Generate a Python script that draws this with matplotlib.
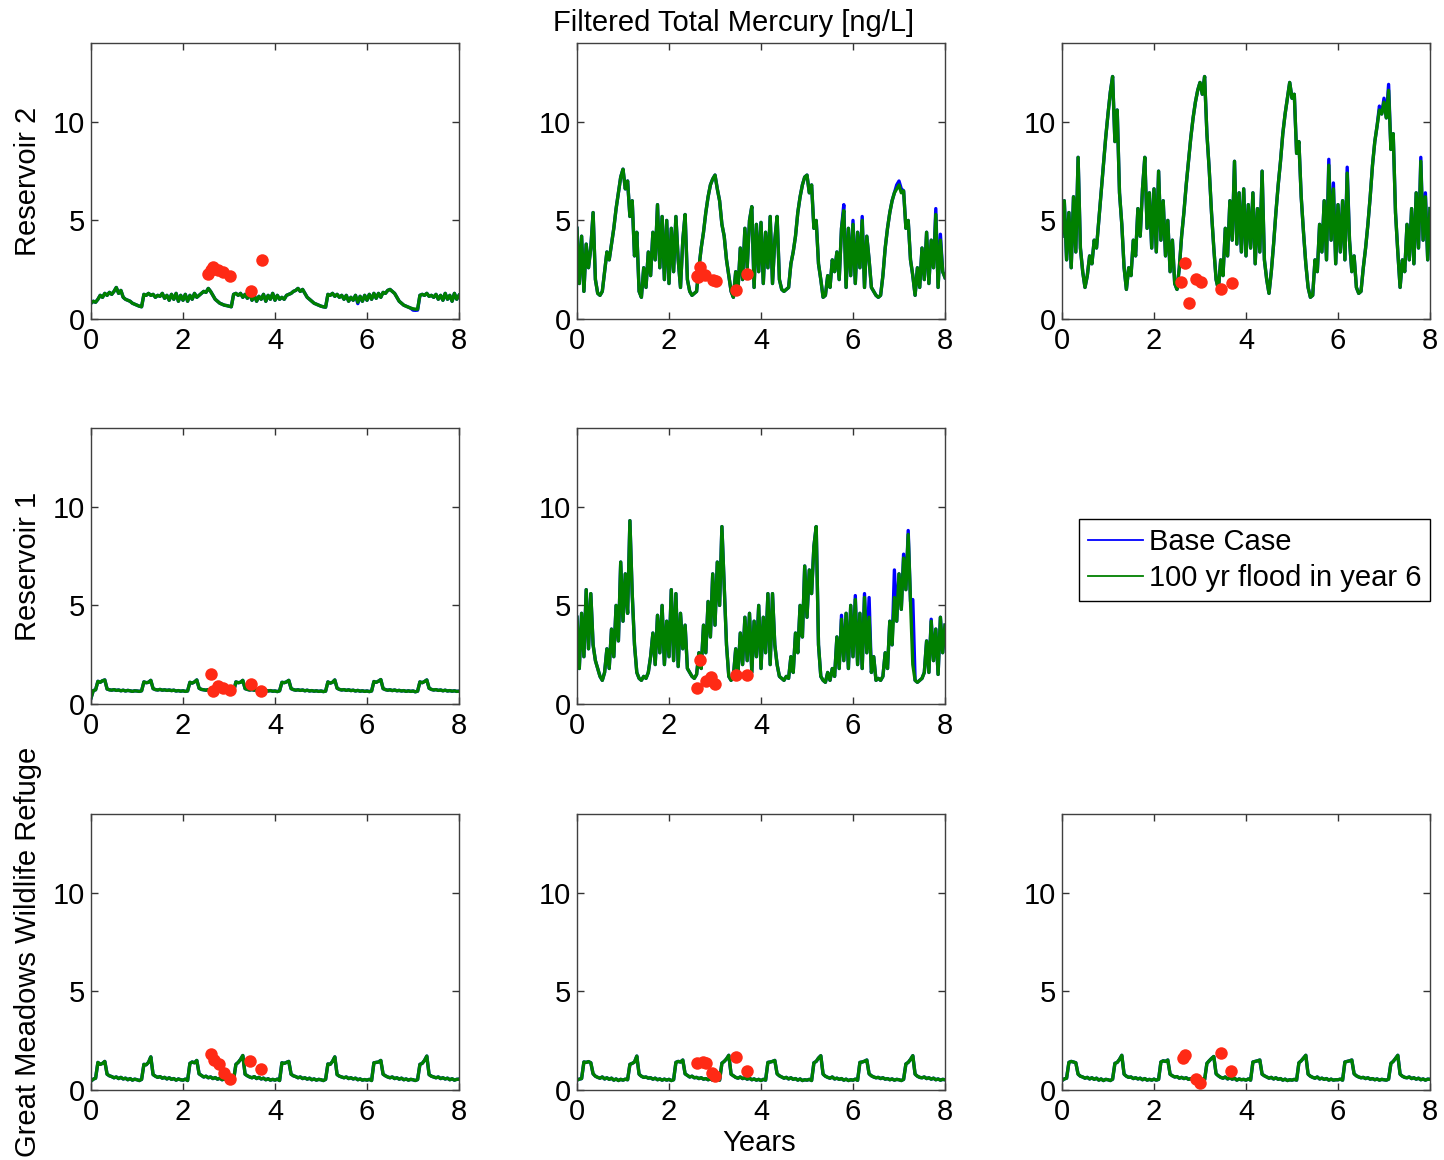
import matplotlib.pyplot as plt
import numpy as np
from matplotlib.lines import Line2D

plt.rcParams['font.family'] = ['Liberation Sans', 'DejaVu Sans']

# time grid, 0.05 yr steps over the 8 simulated years
years = np.linspace(0, 8, 161)

# Reservoir 2 -- first column
r2_a = [0.80, 0.90, 0.85, 1.00, 1.20, 1.10, 1.30, 1.20, 1.35, 1.25, 1.40, 1.60, 1.30, 1.45, 1.10, 1.00, 0.95, 0.90, 0.80, 0.75,
        0.70, 0.65, 0.62, 1.25, 1.20, 1.30, 1.20, 1.25, 1.10, 1.20, 1.15, 1.30, 1.05, 1.20, 0.95, 1.25, 1.00, 1.30, 0.90, 1.20,
        0.95, 1.25, 0.90, 1.20, 1.00, 1.30, 1.10, 1.20, 1.30, 1.40, 1.35, 1.55, 1.40, 1.20, 1.00, 0.90, 0.80, 0.75, 0.70, 0.68,
        0.65, 0.62, 1.25, 1.30, 1.20, 1.30, 1.10, 1.25, 1.05, 1.30, 0.95, 1.20, 0.90, 1.15, 1.00, 1.25, 0.90, 1.20, 1.00, 1.30,
        0.95, 1.20, 1.00, 1.10, 1.00, 1.20, 1.25, 1.30, 1.40, 1.45, 1.55, 1.40, 1.50, 1.30, 1.10, 1.00, 0.90, 0.80, 0.75, 0.70,
        0.65, 0.62, 0.60, 1.25, 1.20, 1.30, 1.15, 1.25, 1.10, 1.20, 1.00, 1.20, 0.90, 1.10, 0.95, 1.20, 0.85, 1.15, 0.90, 1.20,
        0.95, 1.25, 1.00, 1.30, 1.05, 1.30, 1.10, 1.35, 1.30, 1.45, 1.50, 1.40, 1.30, 1.10, 0.90, 0.80, 0.70, 0.65, 0.60, 0.55,
        0.52, 0.50, 0.50, 1.20, 1.25, 1.20, 1.30, 1.15, 1.20, 1.10, 1.25, 1.00, 1.20, 0.95, 1.30, 1.00, 1.20, 0.90, 1.30, 1.00,
        1.20]

# Reservoir 2 -- second column
r2_b = [4.6, 1.8, 4.2, 1.4, 3.8, 2.6, 3.6, 5.4, 2.0, 1.3, 1.2, 1.4, 2.4, 3.4, 3.0, 3.8, 4.6, 5.6, 6.4, 7.2,
        7.6, 6.6, 7.0, 5.2, 6.0, 3.2, 4.4, 1.4, 1.1, 2.6, 1.6, 3.4, 2.2, 4.4, 3.0, 5.8, 2.6, 5.2, 2.0, 5.0,
        1.8, 4.6, 2.4, 5.2, 3.0, 1.6, 4.0, 5.3, 2.0, 1.4, 1.2, 1.3, 1.4, 2.6, 3.6, 4.4, 5.4, 6.2, 6.8, 7.1,
        7.3, 6.6, 6.0, 4.8, 4.2, 3.0, 2.2, 1.4, 1.1, 2.4, 1.5, 3.6, 2.0, 4.6, 2.6, 5.0, 5.7, 1.6, 4.8, 2.4,
        4.9, 1.8, 4.4, 2.6, 5.2, 1.8, 4.0, 5.2, 2.0, 1.5, 1.4, 1.5, 1.6, 2.8, 3.4, 4.2, 5.4, 6.2, 6.8, 7.2,
        7.3, 6.4, 6.8, 4.6, 5.0, 2.8, 2.0, 1.1, 1.2, 2.2, 1.6, 3.0, 2.4, 3.4, 2.0, 4.6, 5.5, 1.6, 4.6, 2.2,
        4.8, 1.8, 4.4, 2.6, 5.0, 1.6, 4.2, 3.0, 1.6, 1.4, 1.2, 1.1, 1.2, 2.2, 3.6, 4.6, 5.4, 6.0, 6.4, 6.6,
        6.8, 6.4, 6.5, 4.6, 5.0, 3.0, 2.2, 1.2, 2.6, 1.6, 3.6, 2.0, 4.4, 1.8, 4.0, 2.6, 5.3, 1.6, 4.0, 2.4,
        2.1]

# Reservoir 2 -- third column
r2_c = [4.2, 6.0, 3.0, 5.4, 2.6, 6.2, 3.4, 8.2, 3.6, 2.4, 1.6, 2.2, 3.2, 2.8, 4.0, 3.6, 5.0, 6.4, 7.8, 9.2,
        10.4, 11.5, 12.3, 9.0, 10.6, 6.4, 4.8, 2.6, 1.5, 2.6, 2.2, 4.0, 3.2, 5.6, 4.2, 6.6, 8.2, 4.6, 6.4, 3.6,
        6.6, 3.4, 7.5, 4.0, 6.0, 3.2, 5.0, 2.4, 4.0, 1.8, 1.5, 2.6, 4.2, 5.4, 6.8, 8.0, 9.2, 10.2, 11.0, 11.6,
        12.0, 11.4, 12.3, 9.4, 7.6, 5.4, 3.6, 2.0, 1.5, 3.0, 2.2, 4.6, 3.2, 6.0, 4.0, 8.0, 3.8, 6.4, 3.4, 6.6,
        3.2, 5.8, 3.6, 6.4, 2.8, 5.6, 3.4, 7.5, 3.0, 2.0, 1.3, 2.4, 3.8, 5.4, 6.8, 8.0, 9.4, 10.4, 11.2, 12.0,
        11.2, 11.4, 8.4, 9.0, 6.2, 4.4, 2.8, 1.6, 1.1, 1.2, 3.0, 2.4, 4.8, 3.4, 6.0, 3.0, 7.8, 4.0, 6.6, 2.8,
        5.8, 3.4, 6.0, 3.0, 7.4, 4.0, 2.4, 3.2, 1.6, 1.3, 1.4, 2.6, 3.6, 4.8, 6.2, 7.8, 9.0, 9.8, 10.6, 10.4,
        11.0, 10.2, 11.6, 8.6, 9.4, 5.4, 3.4, 1.6, 3.0, 2.4, 4.8, 3.0, 5.6, 2.8, 6.4, 3.6, 8.0, 4.0, 6.2, 3.0,
        5.6]

# Reservoir 1 -- first column
r1_a = [0.30, 0.68, 0.72, 1.15, 1.10, 1.18, 1.22, 0.76, 0.72, 0.70, 0.73, 0.69, 0.71, 0.67, 0.70, 0.66, 0.69, 0.67, 0.64, 0.67,
        0.66, 0.64, 0.67, 1.12, 1.08, 1.10, 1.20, 0.78, 0.73, 0.71, 0.74, 0.70, 0.72, 0.69, 0.71, 0.68, 0.70, 0.66, 0.68, 0.65,
        0.67, 0.64, 0.66, 1.10, 1.06, 1.12, 1.22, 0.80, 0.74, 0.72, 0.70, 0.73, 0.69, 0.71, 0.67, 0.70, 0.66, 0.68, 0.65, 0.67,
        0.64, 0.66, 0.63, 1.12, 1.08, 1.10, 1.20, 0.78, 0.74, 0.71, 0.73, 0.70, 0.72, 0.68, 0.70, 0.67, 0.69, 0.66, 0.68, 0.65,
        0.66, 0.63, 0.67, 1.10, 1.08, 1.12, 1.20, 0.78, 0.73, 0.70, 0.72, 0.69, 0.71, 0.67, 0.70, 0.66, 0.68, 0.65, 0.67, 0.64,
        0.66, 0.63, 0.65, 1.12, 1.06, 1.10, 1.22, 0.80, 0.74, 0.71, 0.73, 0.69, 0.72, 0.68, 0.70, 0.66, 0.69, 0.65, 0.67, 0.64,
        0.66, 0.63, 0.66, 1.14, 1.10, 1.16, 1.24, 0.78, 0.73, 0.70, 0.72, 0.68, 0.71, 0.67, 0.69, 0.66, 0.68, 0.64, 0.67, 0.64,
        0.66, 0.62, 0.65, 1.12, 1.08, 1.14, 1.22, 0.80, 0.74, 0.71, 0.73, 0.69, 0.71, 0.67, 0.70, 0.66, 0.68, 0.65, 0.67, 0.64,
        0.65]

# Reservoir 1 -- second column
r1_b = [4.4, 1.8, 4.6, 2.4, 5.8, 2.8, 5.6, 3.0, 2.2, 1.8, 1.4, 1.2, 1.6, 2.8, 1.8, 3.8, 2.4, 5.0, 3.2, 7.2,
        4.2, 6.6, 4.6, 9.3, 5.6, 3.0, 1.6, 1.3, 1.2, 1.4, 1.3, 1.6, 2.4, 3.6, 2.0, 4.5, 2.6, 5.0, 2.0, 4.2,
        2.4, 5.8, 2.2, 5.6, 1.9, 4.6, 2.8, 4.0, 1.8, 1.6, 1.4, 1.3, 1.5, 2.6, 1.8, 4.0, 2.6, 5.2, 3.4, 6.6,
        4.0, 7.2, 5.0, 9.0, 6.0, 3.0, 1.4, 1.2, 1.4, 2.8, 1.6, 3.6, 2.0, 4.4, 2.2, 4.6, 1.6, 4.2, 2.4, 5.0,
        1.8, 4.4, 2.6, 5.6, 2.0, 5.6, 3.0, 2.0, 1.4, 1.3, 1.2, 1.4, 1.3, 2.4, 1.6, 3.6, 2.6, 5.0, 3.4, 7.0,
        4.4, 6.8, 5.6, 8.0, 9.0, 3.0, 1.4, 1.2, 1.1, 1.6, 1.2, 1.8, 1.4, 3.4, 1.8, 4.3, 2.2, 4.6, 1.8, 5.0,
        2.4, 5.3, 2.0, 4.6, 1.8, 5.4, 2.6, 4.4, 1.6, 2.4, 1.2, 1.3, 1.2, 1.4, 2.6, 1.8, 4.2, 3.0, 5.4, 4.2,
        6.6, 4.8, 7.4, 5.8, 8.6, 5.2, 2.0, 1.2, 1.1, 1.2, 1.3, 1.6, 3.2, 1.6, 4.2, 2.2, 3.8, 1.5, 4.4, 2.6,
        4.0]

# Great Meadows Wildlife Refuge -- three columns
gm_a = [0.45, 0.55, 0.60, 1.40, 1.30, 1.35, 1.45, 0.80, 0.72, 0.68, 0.62, 0.66, 0.58, 0.64, 0.56, 0.60, 0.52, 0.58, 0.50, 0.55,
        0.52, 0.48, 0.54, 1.30, 1.28, 1.40, 1.68, 0.78, 0.70, 0.64, 0.68, 0.60, 0.64, 0.56, 0.62, 0.54, 0.58, 0.50, 0.56, 0.52,
        0.50, 0.55, 0.48, 1.35, 1.42, 1.38, 1.50, 0.82, 0.74, 0.66, 0.70, 0.62, 0.66, 0.58, 0.63, 0.55, 0.60, 0.52, 0.56, 0.50,
        0.54, 0.48, 0.52, 1.30, 1.40, 1.55, 1.75, 0.80, 0.72, 0.66, 0.62, 0.68, 0.58, 0.64, 0.56, 0.60, 0.52, 0.57, 0.50, 0.54,
        0.50, 0.55, 0.48, 1.38, 1.35, 1.40, 1.45, 0.80, 0.72, 0.68, 0.62, 0.66, 0.58, 0.62, 0.55, 0.60, 0.52, 0.56, 0.50, 0.54,
        0.52, 0.48, 0.54, 1.32, 1.30, 1.45, 1.68, 0.78, 0.70, 0.66, 0.62, 0.66, 0.58, 0.62, 0.56, 0.60, 0.52, 0.56, 0.50, 0.53,
        0.50, 0.54, 0.48, 1.38, 1.40, 1.42, 1.50, 0.80, 0.72, 0.66, 0.62, 0.66, 0.58, 0.62, 0.55, 0.60, 0.52, 0.56, 0.50, 0.54,
        0.52, 0.48, 0.53, 1.30, 1.35, 1.50, 1.72, 0.78, 0.70, 0.66, 0.62, 0.66, 0.58, 0.62, 0.56, 0.60, 0.52, 0.57, 0.50, 0.54,
        0.55]

gm_b = [0.50, 0.55, 0.58, 1.42, 1.40, 1.44, 1.38, 0.82, 0.70, 0.64, 0.60, 0.66, 0.56, 0.62, 0.54, 0.60, 0.50, 0.56, 0.48, 0.54,
        0.50, 0.55, 0.52, 1.30, 1.35, 1.42, 1.72, 0.80, 0.70, 0.64, 0.66, 0.60, 0.62, 0.55, 0.60, 0.52, 0.56, 0.50, 0.55, 0.50,
        0.54, 0.48, 0.52, 1.40, 1.45, 1.42, 1.52, 0.82, 0.74, 0.66, 0.70, 0.62, 0.64, 0.58, 0.62, 0.55, 0.58, 0.52, 0.56, 0.50,
        0.52, 0.56, 0.50, 1.36, 1.45, 1.58, 1.76, 0.80, 0.72, 0.64, 0.60, 0.66, 0.58, 0.62, 0.55, 0.60, 0.52, 0.56, 0.50, 0.54,
        0.48, 0.54, 0.50, 1.40, 1.42, 1.45, 1.50, 0.82, 0.72, 0.66, 0.60, 0.64, 0.56, 0.62, 0.54, 0.58, 0.50, 0.56, 0.48, 0.52,
        0.50, 0.54, 0.48, 1.38, 1.45, 1.62, 1.74, 0.80, 0.70, 0.64, 0.60, 0.66, 0.56, 0.60, 0.54, 0.58, 0.50, 0.55, 0.48, 0.52,
        0.50, 0.55, 0.49, 1.40, 1.42, 1.46, 1.52, 0.82, 0.72, 0.66, 0.62, 0.64, 0.58, 0.62, 0.55, 0.58, 0.52, 0.56, 0.50, 0.54,
        0.52, 0.48, 0.54, 1.32, 1.40, 1.55, 1.74, 0.80, 0.70, 0.64, 0.62, 0.66, 0.58, 0.62, 0.55, 0.60, 0.52, 0.56, 0.50, 0.54,
        0.52]

gm_c = [0.48, 0.56, 0.60, 1.40, 1.45, 1.42, 1.38, 0.80, 0.70, 0.66, 0.60, 0.64, 0.56, 0.62, 0.54, 0.60, 0.50, 0.56, 0.48, 0.54,
        0.52, 0.48, 0.55, 1.35, 1.40, 1.55, 1.76, 0.80, 0.70, 0.64, 0.66, 0.58, 0.62, 0.56, 0.60, 0.52, 0.58, 0.50, 0.54, 0.50,
        0.55, 0.50, 0.54, 1.42, 1.48, 1.45, 1.52, 0.80, 0.72, 0.66, 0.68, 0.60, 0.64, 0.58, 0.62, 0.54, 0.58, 0.50, 0.56, 0.52,
        0.50, 0.55, 0.52, 1.35, 1.48, 1.60, 1.70, 0.82, 0.72, 0.64, 0.60, 0.66, 0.56, 0.62, 0.55, 0.60, 0.50, 0.56, 0.52, 0.54,
        0.50, 0.56, 0.50, 1.42, 1.45, 1.48, 1.52, 0.80, 0.72, 0.66, 0.60, 0.64, 0.56, 0.62, 0.54, 0.58, 0.50, 0.55, 0.48, 0.52,
        0.50, 0.54, 0.50, 1.38, 1.48, 1.62, 1.76, 0.80, 0.70, 0.64, 0.60, 0.66, 0.56, 0.60, 0.54, 0.58, 0.50, 0.55, 0.50, 0.52,
        0.52, 0.55, 0.50, 1.42, 1.45, 1.48, 1.52, 0.82, 0.72, 0.66, 0.62, 0.64, 0.58, 0.62, 0.55, 0.58, 0.52, 0.56, 0.50, 0.54,
        0.52, 0.50, 0.55, 1.35, 1.45, 1.60, 1.76, 0.80, 0.70, 0.64, 0.62, 0.66, 0.58, 0.62, 0.55, 0.60, 0.52, 0.56, 0.50, 0.55,
        0.54]

# Base case only differs from the flood run at a few points after year 5.7
base_t_r2_a = [5.80, 7.00, 7.05, 7.10]
base_v_r2_a = [0.78, 0.45, 0.44, 0.45]
base_t_r2_b = [5.80, 6.00, 6.20, 6.95, 7.00, 7.05, 7.80, 7.90]
base_v_r2_b = [5.8, 5.0, 5.2, 6.8, 7.0, 6.6, 5.6, 4.3]
base_t_r2_c = [5.80, 5.90, 6.20, 6.90, 7.00, 7.10, 7.80, 7.90]
base_v_r2_c = [8.1, 6.9, 7.7, 10.8, 11.2, 11.9, 8.2, 6.4]
base_t_r1_b = [5.75, 6.05, 6.25, 6.35, 6.90, 7.10, 7.20, 7.30, 7.70]
base_v_r1_b = [4.5, 5.5, 5.6, 5.4, 6.8, 7.6, 8.8, 5.3, 4.3]

# field samples (red dots)
obs_t_r2_a = [2.55, 2.60, 2.65, 2.75, 2.88, 3.02, 3.47, 3.71]
obs_v_r2_a = [2.30, 2.50, 2.65, 2.47, 2.37, 2.20, 1.41, 2.98]
obs_t_r2_b = [2.60, 2.63, 2.67, 2.78, 2.95, 3.03, 3.46, 3.69]
obs_v_r2_b = [2.17, 2.14, 2.64, 2.22, 1.97, 1.92, 1.46, 2.30]
obs_t_r2_c = [2.59, 2.67, 2.77, 2.92, 3.03, 3.46, 3.70]
obs_v_r2_c = [1.88, 2.84, 0.83, 2.05, 1.88, 1.50, 1.84]
obs_t_r1_a = [2.60, 2.65, 2.76, 2.87, 3.02, 3.48, 3.70]
obs_v_r1_a = [1.50, 0.67, 0.92, 0.79, 0.72, 1.00, 0.67]
obs_t_r1_b = [2.60, 2.67, 2.81, 2.92, 3.01, 3.46, 3.69]
obs_v_r1_b = [0.79, 2.21, 1.17, 1.37, 1.00, 1.47, 1.45]
obs_t_gm_a = [2.60, 2.67, 2.78, 2.90, 3.02, 3.46, 3.70]
obs_v_gm_a = [1.82, 1.52, 1.31, 0.84, 0.54, 1.46, 1.04]
obs_t_gm_b = [2.61, 2.74, 2.81, 2.94, 3.01, 3.45, 3.69]
obs_v_gm_b = [1.38, 1.40, 1.35, 0.84, 0.71, 1.68, 0.98]
obs_t_gm_c = [2.63, 2.67, 2.92, 3.01, 3.46, 3.68]
obs_v_gm_c = [1.60, 1.77, 0.54, 0.37, 1.88, 0.98]

row_names = ['Reservoir 2', 'Reservoir 1', 'Great Meadows Wildlife Refuge']

BLUE = '#0000ff'
GREEN = '#008000'
RED = '#ff2a15'
FS = 21

W, H = 1444, 1160
col_left = [91, 577, 1062]
col_width = 368
row_top = [43, 428, 814]
row_height = 276

fig = plt.figure(figsize=(W / 100, H / 100), dpi=100)


def make_base(flood, bt, bv):
    base = np.array(flood, dtype=float)
    for t, v in zip(bt, bv):
        base[int(round(t / 0.05))] = v
    return base


def draw_panel(row, col, flood, base, obs_t, obs_v):
    left = col_left[col] / W
    bottom = 1 - (row_top[row] + row_height) / H
    ax = fig.add_axes([left, bottom, col_width / W, row_height / H])
    ax.plot(years, base, color=BLUE, lw=2.4)
    ax.plot(years, flood, color=GREEN, lw=2.4)
    ax.plot(obs_t, obs_v, 'o', color=RED, ms=9, mec='none')
    ax.set_xlim(0, 8)
    ax.set_ylim(0, 14)
    ax.set_xticks([0, 2, 4, 6, 8])
    ax.set_yticks([0, 5, 10])
    ax.tick_params(direction='in', top=True, right=True, length=5, width=1,
                   color='#333333', labelsize=FS)
    ax.tick_params(axis='x', pad=6)
    ax.tick_params(axis='y', pad=4)
    for s in ax.spines.values():
        s.set_color('#404040')
        s.set_linewidth(1)
    return ax


draw_panel(0, 0, r2_a, make_base(r2_a, base_t_r2_a, base_v_r2_a), obs_t_r2_a, obs_v_r2_a)
draw_panel(0, 1, r2_b, make_base(r2_b, base_t_r2_b, base_v_r2_b), obs_t_r2_b, obs_v_r2_b)
draw_panel(0, 2, r2_c, make_base(r2_c, base_t_r2_c, base_v_r2_c), obs_t_r2_c, obs_v_r2_c)
draw_panel(1, 0, r1_a, r1_a, obs_t_r1_a, obs_v_r1_a)
draw_panel(1, 1, r1_b, make_base(r1_b, base_t_r1_b, base_v_r1_b), obs_t_r1_b, obs_v_r1_b)
draw_panel(2, 0, gm_a, gm_a, obs_t_gm_a, obs_v_gm_a)
draw_panel(2, 1, gm_b, gm_b, obs_t_gm_b, obs_v_gm_b)
draw_panel(2, 2, gm_c, gm_c, obs_t_gm_c, obs_v_gm_c)

# labels
fig.text(734 / W, 1 - 23 / H, 'Filtered Total Mercury [ng/L]', ha='center', va='center', fontsize=FS)
fig.text(759 / W, 1 - 1143 / H, 'Years', ha='center', va='center', fontsize=FS)
for name, yc in zip(row_names, [181, 566, 952]):
    fig.text(28 / W, 1 - yc / H, name, rotation=90, ha='center', va='center', fontsize=FS)

handles = [Line2D([], [], color=BLUE, lw=1.3), Line2D([], [], color=GREEN, lw=1.3)]
leg = fig.legend(handles, ['Base Case', '100 yr flood in year 6'], loc='upper right',
                 bbox_to_anchor=(1430 / W, 1 - 519 / H), fontsize=FS, fancybox=False,
                 edgecolor='black', framealpha=1, borderpad=0.3, handlelength=1.9,
                 handletextpad=0.2, labelspacing=0.3, borderaxespad=0)
leg.get_frame().set_linewidth(1)

fig.savefig('out.png', dpi=100)
